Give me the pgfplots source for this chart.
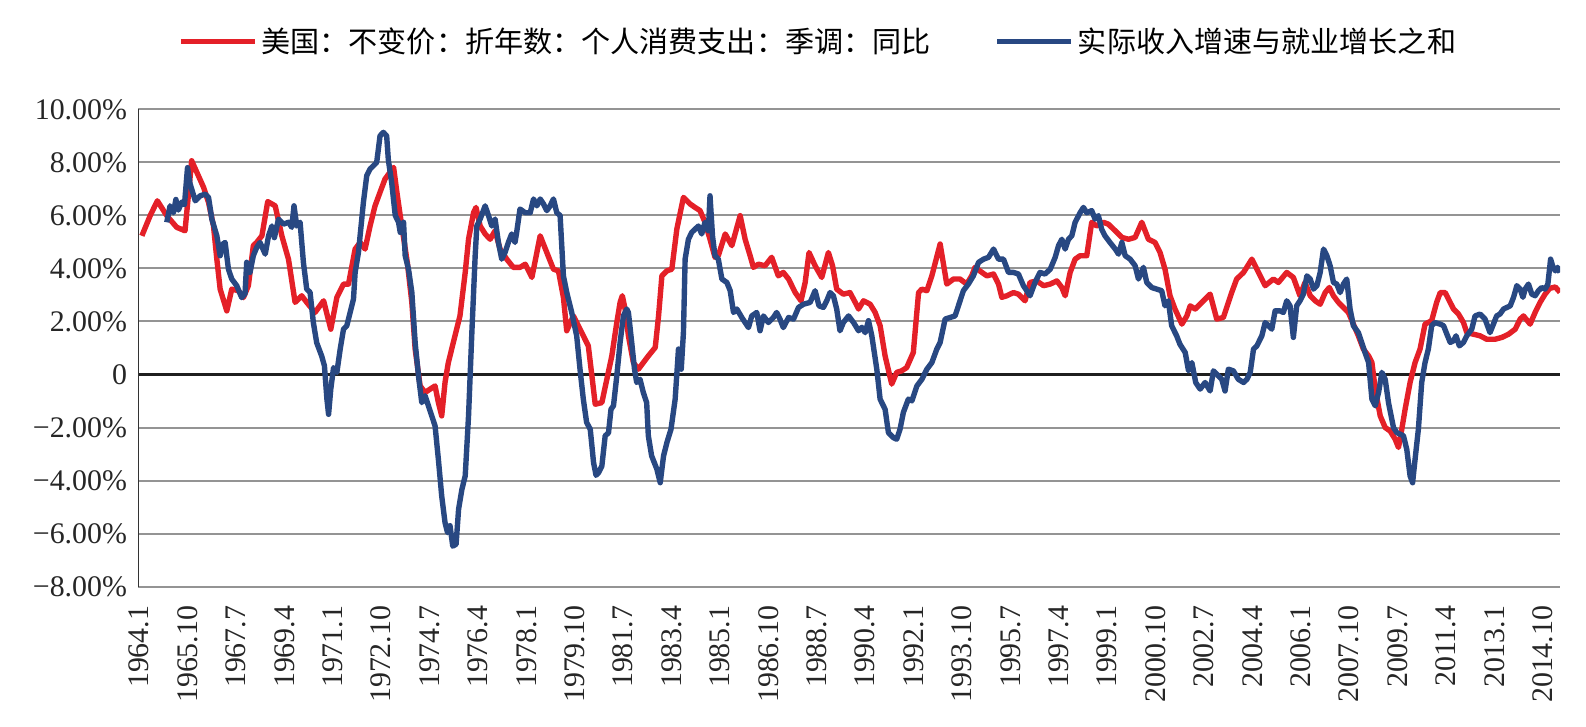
\documentclass[border=0pt]{standalone}
\usepackage{fontspec}
\setmainfont{Liberation Serif}
\newfontfamily\cjk{Noto Sans CJK SC}
\usepackage{pgfplots}
\pgfplotsset{compat=1.18}
\definecolor{cred}{RGB}{228,32,40}
\definecolor{cblue}{RGB}{40,72,130}
\begin{document}
\begin{tikzpicture}
\useasboundingbox (-69bp,-70bp) rectangle (724bp,293.35bp);
\begin{axis}[
  at={(0,0)}, anchor=south west,
  scale only axis, width=711bp, height=238.7bp,
  xmin=1963.96, xmax=2015.37, ymin=-8, ymax=10,
  axis line style={draw=none}, tick style={draw=none},
  ymajorgrids, grid style={draw=black!42, line width=1bp},
  ytick={-8,-6,-4,-2,0,2,4,6,8,10},
  yticklabels={−8.00\%,−6.00\%,−4.00\%,−2.00\%,0,2.00\%,4.00\%,6.00\%,8.00\%,10.00\%},
  xtick={1964,1965.75,1967.5,1969.25,1971,1972.75,1974.5,1976.25,1978,1979.75,1981.5,1983.25,1985,1986.75,1988.5,1990.25,1992,1993.75,1995.5,1997.25,1999,2000.75,2002.5,2004.25,2006,2007.75,2009.5,2011.25,2013,2014.75},
  xticklabels={1964.1,1965.10,1967.7,1969.4,1971.1,1972.10,1974.7,1976.4,1978.1,1979.10,1981.7,1983.4,1985.1,1986.10,1988.7,1990.4,1992.1,1993.10,1995.7,1997.4,1999.1,2000.10,2002.7,2004.4,2006.1,2007.10,2009.7,2011.4,2013.1,2014.10},
  tick label style={font=\fontsize{15}{17}\selectfont, text=black!85},
  xticklabel style={rotate=90, anchor=east},
  xticklabel shift=6bp, yticklabel shift=2bp,
  legend columns=2,
  legend style={at={(0.479,1)}, anchor=center, yshift=34bp, draw=none, fill=none,
    font=\cjk\fontsize{14.6}{16}\selectfont,
    /tikz/every even column/.append style={column sep=30bp}},
  legend image code/.code={\draw[#1] (-2bp,0bp) -- (35bp,0bp);},
  every axis plot/.append style={line width=2.7bp, line join=round},
]
\draw[black!88, line width=1.2bp] (axis cs:1963.96,0) -- (axis cs:2015.37,0);
\draw[black!80, line width=1.2bp] (rel axis cs:0,0) -- (rel axis cs:0,1);

\addplot[cred] coordinates {
(1964.10,5.23)(1964.40,5.99)(1964.66,6.55)(1965.00,5.99)(1965.36,5.55)(1965.66,5.42)
(1965.90,8.06)(1966.33,7.06)(1966.51,6.49)(1966.69,5.60)(1966.81,4.35)(1966.93,3.22)
(1967.17,2.40)(1967.35,3.22)(1967.59,3.16)(1967.77,2.90)(1967.95,3.35)(1968.13,4.86)
(1968.25,4.98)(1968.44,5.23)(1968.65,6.52)(1968.92,6.36)(1969.16,5.23)(1969.40,4.35)
(1969.64,2.72)(1969.88,2.97)(1970.06,2.72)(1970.36,2.34)(1970.67,2.78)(1970.93,1.71)
(1971.15,2.91)(1971.39,3.41)(1971.57,3.41)(1971.81,4.73)(1971.99,4.98)(1972.17,4.73)
(1972.35,5.60)(1972.53,6.36)(1972.71,6.87)(1972.89,7.37)(1973.20,7.81)(1973.32,6.87)
(1973.44,6.00)(1973.70,4.20)(1973.86,2.72)(1973.98,0.96)(1974.16,-0.43)(1974.34,-0.68)
(1974.52,-0.55)(1974.70,-0.43)(1974.82,-1.06)(1974.94,-1.56)(1975.06,-0.30)(1975.18,0.45)
(1975.42,1.46)(1975.60,2.21)(1975.79,3.85)(1975.91,5.10)(1976.09,6.10)(1976.18,6.30)
(1976.33,5.60)(1976.51,5.30)(1976.69,5.10)(1976.87,5.42)(1977.05,4.73)(1977.29,4.35)
(1977.53,4.04)(1977.77,4.04)(1977.96,4.16)(1978.20,3.66)(1978.50,5.23)(1978.74,4.60)
(1978.98,3.97)(1979.16,3.91)(1979.34,2.91)(1979.46,1.65)(1979.70,2.21)(1979.94,1.71)
(1980.24,1.08)(1980.37,-0.05)(1980.49,-1.12)(1980.73,-1.06)(1980.91,-0.18)(1981.09,0.70)
(1981.27,1.96)(1981.39,2.72)(1981.47,2.97)(1981.57,2.47)(1981.69,1.46)(1981.87,0.45)
(1982.05,0.20)(1982.23,0.45)(1982.41,0.70)(1982.66,1.02)(1982.78,2.21)(1982.90,3.72)
(1983.08,3.91)(1983.26,3.97)(1983.44,5.48)(1983.68,6.68)(1983.92,6.43)(1984.10,6.30)
(1984.28,6.18)(1984.46,5.74)(1984.64,5.10)(1984.82,4.42)(1984.94,4.48)(1985.19,5.30)
(1985.43,4.86)(1985.73,5.99)(1985.91,5.10)(1986.09,4.48)(1986.21,4.04)(1986.39,4.16)
(1986.63,4.10)(1986.87,4.42)(1987.11,3.72)(1987.29,3.85)(1987.48,3.60)(1987.72,3.09)
(1987.93,2.78)(1988.08,3.47)(1988.22,4.60)(1988.44,4.10)(1988.68,3.66)(1988.92,4.60)
(1989.07,4.10)(1989.22,3.22)(1989.46,3.03)(1989.70,3.09)(1989.89,2.72)(1990.01,2.47)
(1990.19,2.78)(1990.43,2.65)(1990.61,2.34)(1990.79,1.84)(1990.97,0.70)(1991.21,-0.36)
(1991.39,0.08)(1991.57,0.14)(1991.75,0.26)(1991.99,0.83)(1992.18,3.09)(1992.30,3.22)
(1992.48,3.16)(1992.66,3.72)(1992.96,4.92)(1993.20,3.41)(1993.44,3.60)(1993.68,3.60)
(1993.92,3.41)(1994.10,3.72)(1994.22,4.04)(1994.47,3.85)(1994.65,3.72)(1994.89,3.79)
(1995.07,3.41)(1995.19,2.91)(1995.37,2.97)(1995.61,3.09)(1995.79,3.03)(1996.03,2.78)
(1996.21,3.47)(1996.45,3.53)(1996.70,3.35)(1996.94,3.41)(1997.18,3.53)(1997.36,3.28)
(1997.48,2.97)(1997.66,3.85)(1997.84,4.35)(1998.02,4.48)(1998.26,4.48)(1998.44,5.74)
(1998.62,5.60)(1998.86,5.74)(1999.04,5.67)(1999.29,5.42)(1999.53,5.17)(1999.77,5.10)
(2000.01,5.17)(2000.25,5.74)(2000.49,5.10)(2000.73,4.98)(2000.91,4.60)(2001.09,3.97)
(2001.27,2.97)(2001.45,2.47)(2001.70,1.90)(2001.88,2.21)(2002.00,2.59)(2002.18,2.47)
(2002.42,2.72)(2002.72,3.03)(2002.96,2.09)(2003.20,2.15)(2003.50,3.09)(2003.68,3.60)
(2003.93,3.85)(2004.23,4.35)(2004.47,3.85)(2004.71,3.35)(2005.01,3.60)(2005.19,3.47)
(2005.49,3.85)(2005.73,3.66)(2005.97,2.97)(2006.15,3.47)(2006.34,2.97)(2006.52,2.78)
(2006.70,2.65)(2006.88,3.09)(2007.03,3.28)(2007.18,2.97)(2007.36,2.72)(2007.54,2.53)
(2007.72,2.34)(2007.90,1.90)(2008.08,1.46)(2008.26,0.96)(2008.45,0.70)(2008.57,0.45)
(2008.69,-0.55)(2008.87,-1.56)(2009.05,-2.00)(2009.23,-2.13)(2009.41,-2.44)(2009.53,-2.75)
(2009.65,-2.06)(2009.77,-1.31)(2009.95,-0.30)(2010.13,0.45)(2010.31,0.96)(2010.49,1.90)
(2010.73,2.03)(2010.91,2.72)(2011.04,3.09)(2011.22,3.09)(2011.34,2.84)(2011.52,2.47)
(2011.70,2.28)(2011.88,1.96)(2012.00,1.58)(2012.24,1.52)(2012.48,1.46)(2012.72,1.33)
(2013.02,1.33)(2013.27,1.40)(2013.51,1.52)(2013.75,1.71)(2013.93,2.09)(2014.05,2.21)
(2014.29,1.90)(2014.47,2.34)(2014.65,2.72)(2014.83,3.03)(2015.00,3.25)(2015.20,3.30)
(2015.37,3.10)
};
\addlegendentry{美国：不变价：折年数：个人消费支出：季调：同比}

\addplot[cblue] coordinates {
(1965.00,5.74)(1965.12,6.36)(1965.24,6.10)(1965.33,6.60)(1965.42,6.20)(1965.54,6.50)
(1965.64,6.40)(1965.75,7.80)(1965.84,7.20)(1966.03,6.55)(1966.21,6.74)(1966.39,6.80)
(1966.51,6.68)(1966.63,5.86)(1966.81,5.23)(1966.93,4.48)(1967.03,4.92)(1967.11,4.98)
(1967.23,3.97)(1967.35,3.60)(1967.53,3.35)(1967.71,2.90)(1967.83,3.05)(1967.89,4.23)
(1968.01,3.85)(1968.13,4.48)(1968.25,4.79)(1968.37,4.98)(1968.56,4.54)(1968.68,5.23)
(1968.80,5.60)(1968.89,5.16)(1969.04,5.86)(1969.22,5.67)(1969.40,5.74)(1969.52,5.55)
(1969.60,6.36)(1969.70,5.60)(1969.82,5.74)(1969.94,4.23)(1970.06,3.22)(1970.18,3.10)
(1970.30,1.96)(1970.42,1.20)(1970.60,0.70)(1970.70,0.33)(1970.79,-0.93)(1970.85,-1.50)
(1970.93,-0.55)(1971.03,0.26)(1971.15,0.08)(1971.27,0.96)(1971.39,1.71)(1971.51,1.84)
(1971.63,2.34)(1971.75,2.84)(1971.81,3.85)(1971.93,4.60)(1972.11,6.50)(1972.23,7.50)
(1972.35,7.75)(1972.47,7.87)(1972.59,8.00)(1972.71,9.00)(1972.83,9.13)(1972.95,9.00)
(1973.01,8.10)(1973.13,7.25)(1973.26,6.00)(1973.38,5.74)(1973.44,5.36)(1973.56,5.74)
(1973.62,4.48)(1973.74,3.97)(1973.86,3.10)(1973.98,1.20)(1974.10,-0.05)(1974.22,-1.06)
(1974.34,-0.80)(1974.46,-1.18)(1974.58,-1.56)(1974.70,-1.94)(1974.82,-3.20)(1974.94,-4.58)
(1975.06,-5.58)(1975.15,-5.96)(1975.24,-5.70)(1975.34,-6.47)(1975.46,-6.40)(1975.55,-5.08)
(1975.67,-4.33)(1975.79,-3.82)(1975.91,-1.56)(1976.03,1.58)(1976.15,4.48)(1976.21,5.60)
(1976.33,5.86)(1976.51,6.36)(1976.63,6.00)(1976.75,5.60)(1976.87,5.86)(1976.99,4.98)
(1977.11,4.35)(1977.23,4.60)(1977.35,4.98)(1977.47,5.30)(1977.59,4.98)(1977.65,5.36)
(1977.77,6.24)(1977.96,6.10)(1978.14,6.10)(1978.26,6.62)(1978.38,6.36)(1978.50,6.62)
(1978.62,6.43)(1978.74,6.18)(1978.86,6.36)(1978.98,6.62)(1979.10,6.10)(1979.22,6.00)
(1979.34,3.72)(1979.46,3.10)(1979.64,2.34)(1979.82,1.46)(1979.94,0.20)(1980.06,-0.93)
(1980.18,-1.81)(1980.31,-2.06)(1980.43,-3.32)(1980.52,-3.80)(1980.61,-3.70)(1980.73,-3.45)
(1980.85,-2.31)(1980.97,-2.20)(1981.06,-1.31)(1981.15,-1.18)(1981.27,-0.05)(1981.39,1.21)
(1981.51,2.21)(1981.63,2.47)(1981.69,2.34)(1981.81,1.20)(1981.91,0.20)(1981.99,-0.30)
(1982.11,-0.18)(1982.23,-0.68)(1982.35,-1.06)(1982.41,-2.31)(1982.53,-3.07)(1982.72,-3.57)
(1982.84,-4.08)(1982.96,-3.07)(1983.08,-2.57)(1983.23,-2.06)(1983.38,-0.93)(1983.50,0.96)
(1983.60,0.20)(1983.68,1.60)(1983.74,4.35)(1983.86,5.10)(1983.98,5.36)(1984.10,5.48)
(1984.22,5.60)(1984.34,5.30)(1984.46,5.74)(1984.58,5.42)(1984.64,6.74)(1984.73,5.23)
(1984.82,4.48)(1984.94,4.35)(1985.07,3.60)(1985.25,3.47)(1985.37,3.16)(1985.49,2.34)
(1985.61,2.47)(1985.79,2.15)(1986.03,1.77)(1986.15,2.21)(1986.33,2.34)(1986.45,1.65)
(1986.57,2.21)(1986.75,1.96)(1986.93,2.15)(1987.05,2.34)(1987.17,2.09)(1987.29,1.77)
(1987.48,2.15)(1987.66,2.09)(1987.84,2.53)(1988.02,2.65)(1988.26,2.72)(1988.44,3.16)
(1988.58,2.59)(1988.74,2.53)(1988.86,2.78)(1988.98,3.09)(1989.10,2.97)(1989.22,2.47)
(1989.34,1.65)(1989.46,1.96)(1989.65,2.21)(1989.83,1.96)(1990.01,1.65)(1990.13,1.78)
(1990.25,1.58)(1990.37,2.03)(1990.49,1.46)(1990.67,0.20)(1990.79,-0.93)(1990.97,-1.31)
(1991.09,-2.19)(1991.27,-2.38)(1991.39,-2.44)(1991.51,-2.06)(1991.63,-1.43)(1991.81,-0.93)
(1991.94,-0.99)(1992.12,-0.43)(1992.30,-0.18)(1992.48,0.20)(1992.66,0.45)(1992.84,0.96)
(1992.96,1.21)(1993.14,2.09)(1993.32,2.15)(1993.50,2.21)(1993.62,2.59)(1993.80,3.16)
(1993.98,3.41)(1994.16,3.72)(1994.35,4.23)(1994.53,4.35)(1994.71,4.42)(1994.89,4.73)
(1995.07,4.35)(1995.25,4.35)(1995.43,3.85)(1995.61,3.85)(1995.79,3.79)(1995.97,3.35)
(1996.21,2.97)(1996.39,3.47)(1996.57,3.85)(1996.75,3.79)(1996.94,3.97)(1997.12,4.42)
(1997.24,4.86)(1997.36,5.10)(1997.48,4.73)(1997.60,5.10)(1997.72,5.23)(1997.84,5.74)
(1998.02,6.10)(1998.14,6.30)(1998.26,6.10)(1998.44,6.18)(1998.56,5.86)(1998.68,5.99)
(1998.80,5.48)(1998.92,5.23)(1999.10,4.98)(1999.29,4.73)(1999.41,4.54)(1999.53,4.98)
(1999.65,4.48)(1999.83,4.35)(2000.01,4.10)(2000.13,3.60)(2000.31,4.04)(2000.43,3.47)
(2000.61,3.28)(2000.79,3.22)(2000.97,3.16)(2001.09,2.59)(2001.21,2.78)(2001.33,1.84)
(2001.51,1.46)(2001.63,1.14)(2001.82,0.83)(2001.94,0.14)(2002.06,0.45)(2002.20,-0.30)
(2002.36,-0.55)(2002.54,-0.30)(2002.72,-0.62)(2002.84,0.14)(2003.02,-0.05)(2003.14,-0.18)
(2003.26,-0.62)(2003.38,0.20)(2003.56,0.14)(2003.74,-0.18)(2003.93,-0.30)(2004.05,-0.18)
(2004.17,0.08)(2004.29,0.96)(2004.41,1.08)(2004.59,1.46)(2004.71,1.96)(2004.83,1.84)
(2004.95,1.71)(2005.07,2.40)(2005.25,2.40)(2005.37,2.34)(2005.49,2.78)(2005.61,2.59)
(2005.73,1.40)(2005.85,2.59)(2005.97,2.78)(2006.09,3.03)(2006.22,3.72)(2006.34,3.60)
(2006.46,3.22)(2006.58,3.35)(2006.70,3.85)(2006.82,4.73)(2006.94,4.48)(2007.06,4.10)
(2007.18,3.47)(2007.30,3.41)(2007.42,3.09)(2007.54,3.41)(2007.66,3.60)(2007.78,2.47)
(2007.90,1.84)(2008.08,1.58)(2008.20,1.21)(2008.32,0.83)(2008.45,0.45)(2008.57,-0.93)
(2008.69,-1.18)(2008.81,-0.68)(2008.93,0.08)(2009.05,-0.18)(2009.17,-1.06)(2009.35,-2.00)
(2009.47,-2.19)(2009.59,-2.25)(2009.71,-2.31)(2009.83,-2.82)(2009.95,-3.82)(2010.04,-4.08)
(2010.13,-3.20)(2010.25,-2.06)(2010.37,-0.30)(2010.49,0.45)(2010.61,0.96)(2010.73,1.84)
(2010.85,1.96)(2011.04,1.90)(2011.16,1.84)(2011.28,1.52)(2011.40,1.21)(2011.52,1.27)
(2011.61,1.46)(2011.73,1.08)(2011.88,1.21)(2012.00,1.46)(2012.18,1.71)(2012.30,2.21)
(2012.48,2.28)(2012.66,2.09)(2012.84,1.58)(2013.08,2.21)(2013.20,2.28)(2013.33,2.47)
(2013.45,2.53)(2013.57,2.59)(2013.69,2.91)(2013.81,3.35)(2013.93,3.22)(2014.03,2.91)
(2014.11,3.22)(2014.23,3.41)(2014.35,3.03)(2014.47,2.97)(2014.59,3.16)(2014.71,3.28)
(2014.83,3.22)(2014.93,3.40)(2015.03,4.35)(2015.12,4.04)(2015.20,3.91)(2015.28,4.04)
(2015.37,3.85)
};
\addlegendentry{实际收入增速与就业增长之和}
\end{axis}
\end{tikzpicture}
\end{document}
